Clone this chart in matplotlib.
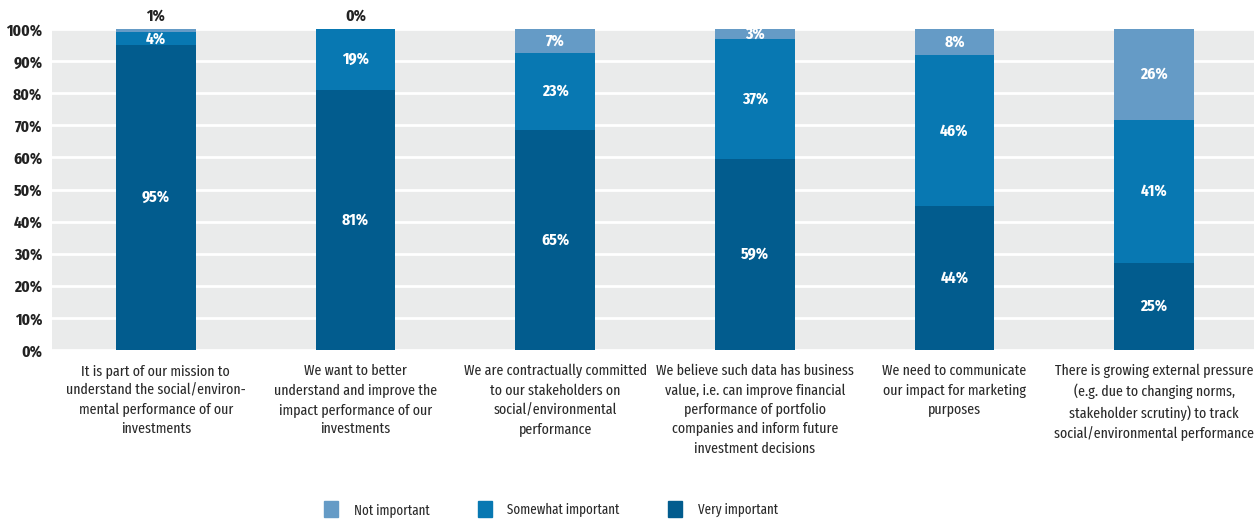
import matplotlib
matplotlib.use("Agg")
import matplotlib.pyplot as plt
import numpy as np
from matplotlib import font_manager
from matplotlib.patches import Patch

names = {f.name for f in font_manager.fontManager.ttflist}
prefs = ['Fira Sans Extra Condensed', 'Roboto Condensed', 'Open Sans Condensed', 'Archivo Narrow',
         'PT Sans Narrow', 'Liberation Sans Narrow']
fams = [p for p in prefs if p in names][:1] + ['DejaVu Sans']
plt.rcParams['font.family'] = fams

categories = [
    "It is part of our mission to\nunderstand the social/environ-\nmental performance of our\ninvestments",
    "We want to better\nunderstand and improve the\nimpact performance of our\ninvestments",
    "We are contractually committed\nto our stakeholders on\nsocial/environmental\nperformance",
    "We believe such data has business\nvalue, i.e. can improve financial\nperformance of portfolio\ncompanies and inform future\ninvestment decisions",
    "We need to communicate\nour impact for marketing\npurposes",
    "There is growing external pressure\n(e.g. due to changing norms,\nstakeholder scrutiny) to track\nsocial/environmental performance",
]
very = [95, 81, 65, 59, 44, 25]
somewhat = [4, 19, 23, 37, 46, 41]
notimp = [1, 0, 7, 3, 8, 26]
series_names = ["Not important", "Somewhat important", "Very important"]
yticks = [0, 10, 20, 30, 40, 50, 60, 70, 80, 90, 100]

c_very = '#025C8E'
c_some = '#0878B2'
c_not = '#659BC6'

fig = plt.figure(figsize=(12.56, 5.23), dpi=100)
renderer = fig.canvas.get_renderer()

def fit(sample, target_px, weight='normal'):
    t = fig.text(0, 0, sample, fontsize=10, fontweight=weight)
    wpx = t.get_window_extent(renderer).width
    t.remove()
    return 10 * target_px / wpx

fs_cat = min(fit("It is part of our mission to", 150), 13.5)
fs_tick = min(fit("100%", 36, 'bold'), 15)
fs_bar = min(fit("95%", 28, 'bold'), 15)
fs_leg = min(fit("Not important", 76), 15.5)

ax = fig.add_axes([52/1256, 1-350/523, 1202/1256, 321/523])
ax.set_facecolor('#EAEBEB')

v = np.array(very, float); s = np.array(somewhat, float); n = np.array(notimp, float)
tot = v + s + n
vn = v / tot * 100; sn = s / tot * 100; nn = n / tot * 100
x = np.arange(len(categories))
w = 0.4
ax.bar(x, vn, w, color=c_very, zorder=3)
ax.bar(x, sn, w, bottom=vn, color=c_some, zorder=3)
ax.bar(x, nn, w, bottom=vn + sn, color=c_not, zorder=3)

tkw = dict(ha='center', va='center', fontsize=fs_bar, fontweight='bold', zorder=4)
for i in range(len(x)):
    ax.text(x[i], vn[i] / 2, f"{very[i]}%", color='white', **tkw)
    ax.text(x[i], vn[i] + sn[i] / 2, f"{somewhat[i]}%", color='white', **tkw)
    if nn[i] >= 2.5:
        ax.text(x[i], vn[i] + sn[i] + nn[i] / 2, f"{notimp[i]}%", color='white', **tkw)
    else:
        ax.text(x[i], 104, f"{notimp[i]}%", color='#222222', clip_on=False, **tkw)

ax.set_ylim(0, 100)
ax.set_xlim(-0.52, 5.5)
ax.set_yticks(yticks)
ax.set_yticklabels([f"{t}%" for t in yticks], fontsize=fs_tick, fontweight='bold', color='#222222')
ax.yaxis.grid(True, color='white', linewidth=2, zorder=1)
ax.set_axisbelow(True)
ax.tick_params(axis='y', length=0, pad=7)
ax.set_xticks(x)
ax.set_xticklabels(categories, fontsize=fs_cat, color='#2a2a2a', linespacing=1.45, va='top')
ax.tick_params(axis='x', length=0, pad=10)
for sp in ax.spines.values():
    sp.set_visible(False)

handles = [Patch(color=c_not), Patch(color=c_some), Patch(color=c_very)]
fig.legend(handles, series_names, loc='center', bbox_to_anchor=(551/1256, 1-509/523), ncol=3,
           frameon=False, fontsize=fs_leg, handlelength=1.0, handleheight=1.4,
           columnspacing=3.4, handletextpad=1.1, labelcolor='#2a2a2a')

fig.savefig('out.png', dpi=100)
